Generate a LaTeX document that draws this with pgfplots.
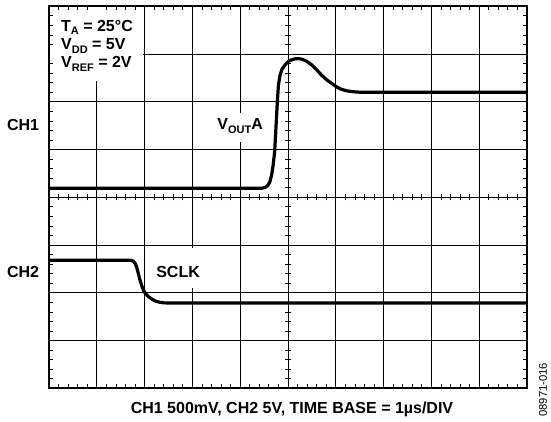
\documentclass[border=0pt]{standalone}
\usepackage{fontspec}
\setmainfont{Liberation Sans}
\usepackage{pgfplots}
\pgfplotsset{compat=1.18}
\pgfplotsset{
  layers/my layers/.define layer set={
    axis background,axis grid,pre main,axis ticks,axis lines,axis tick labels,main,axis descriptions,axis foreground
  }{/pgfplots/layers/standard},
}
\newcommand\sub[1]{\raisebox{-0.22em}{\fontsize{11}{11}\selectfont #1}}
\newcommand\lbl{\fontsize{16}{18}\selectfont\bfseries}
\begin{document}
\begin{tikzpicture}
% centre graticule lines with fine divisions
\begin{axis}[
  scale only axis, width=478pt, height=382pt,
  xmin=-5, xmax=5, ymin=-4, ymax=4,
  axis lines=middle, axis line style={-, line width=1pt, black},
  xtick={-5,...,5}, ytick={-4,...,4},
  minor x tick num=4, minor y tick num=4,
  xticklabels={}, yticklabels={},
  tick align=center, major tick length=6pt, minor tick length=6pt,
  every tick/.style={black, line width=0.8pt},
]
\end{axis}
% main graticule and traces
\begin{axis}[
  set layers=my layers,
  scale only axis, width=478pt, height=382pt,
  xmin=0, xmax=10, ymin=-4, ymax=4,
  xtick={0,...,10}, ytick={-4,...,4},
  minor x tick num=4, minor y tick num=4,
  xticklabels={}, yticklabels={},
  grid=major, major grid style={black, line width=1pt},
  tick align=inside, major tick length=0pt, minor tick length=4pt,
  every tick/.style={black, line width=0.8pt},
  axis line style={line width=2pt, black},
  clip=false,
]
\begin{pgfonlayer}{pre main}
\node[fill=white, anchor=north west, inner sep=0pt, minimum width=94pt, minimum height=74pt] at (rel axis cs:0,1) {};
\node[fill=white, inner sep=0pt, minimum width=62pt, minimum height=29pt] at (axis cs:4.0,1.47) {};
\node[fill=white, inner sep=0pt, minimum width=56pt, minimum height=40pt] at (axis cs:2.70,-1.474) {};
\end{pgfonlayer}

\addplot[black, line width=3.2pt, line join=round, line cap=butt] coordinates {
(0,0.19) (4.45,0.19) (4.52,0.205) (4.58,0.25) (4.62,0.32) (4.66,0.48) (4.69,0.68)
(4.72,0.95) (4.74,1.30) (4.76,1.69) (4.78,2.05) (4.80,2.35) (4.83,2.54) (4.87,2.67)
(4.92,2.75) (4.97,2.81) (5.03,2.86) (5.08,2.88) (5.15,2.90) (5.22,2.905) (5.30,2.89)
(5.39,2.85) (5.50,2.77) (5.60,2.67) (5.70,2.56) (5.81,2.46) (5.92,2.38) (6.02,2.31)
(6.12,2.26) (6.23,2.23) (6.37,2.21) (6.51,2.20) (10,2.20)
};
\addplot[black, line width=3.2pt, line join=round, line cap=butt] coordinates {
(0,-1.32) (1.70,-1.32) (1.76,-1.335) (1.80,-1.38) (1.83,-1.45) (1.87,-1.60) (1.90,-1.72)
(1.94,-1.85) (1.97,-1.93) (2.02,-2.02) (2.08,-2.08) (2.15,-2.13) (2.22,-2.17)
(2.30,-2.195) (2.39,-2.21) (2.53,-2.214) (10,-2.214)
};

\node[anchor=base west, inner sep=0pt, font=\lbl] at (axis cs:0.25,3.476) {T\sub{A} = 25°C};
\node[anchor=base west, inner sep=0pt, font=\lbl] at (axis cs:0.25,3.09) {V\sub{DD} = 5V};
\node[anchor=base west, inner sep=0pt, font=\lbl] at (axis cs:0.25,2.708) {V\sub{REF} = 2V};
\node[anchor=base, inner sep=0pt, font=\lbl] at (axis cs:4.0,1.416) {V\sub{OUT}A};
\node[anchor=base, inner sep=0pt, font=\lbl] at (axis cs:2.70,-1.67) {SCLK};
\node[anchor=base east, inner sep=0pt, font=\lbl, xshift=-9.7pt] at (axis cs:0,1.40) {CH1};
\node[anchor=base east, inner sep=0pt, font=\lbl, xshift=-9.7pt] at (axis cs:0,-1.67) {CH2};
\node[anchor=base, inner sep=0pt, font=\lbl, xshift=4pt, yshift=-25pt] at (rel axis cs:0.5,0) {CH1 500mV, CH2 5V, TIME BASE = 1µs/DIV};
\node[xshift=16pt, yshift=-1.5pt, rotate=90, inner sep=0pt, font=\fontsize{11.3}{11.3}\selectfont] at (rel axis cs:1,0) {08971-016};
\end{axis}
\pgfresetboundingbox
\useasboundingbox (-49pt,-32.7pt) rectangle (502pt,388.3pt);
\end{tikzpicture}
\end{document}
